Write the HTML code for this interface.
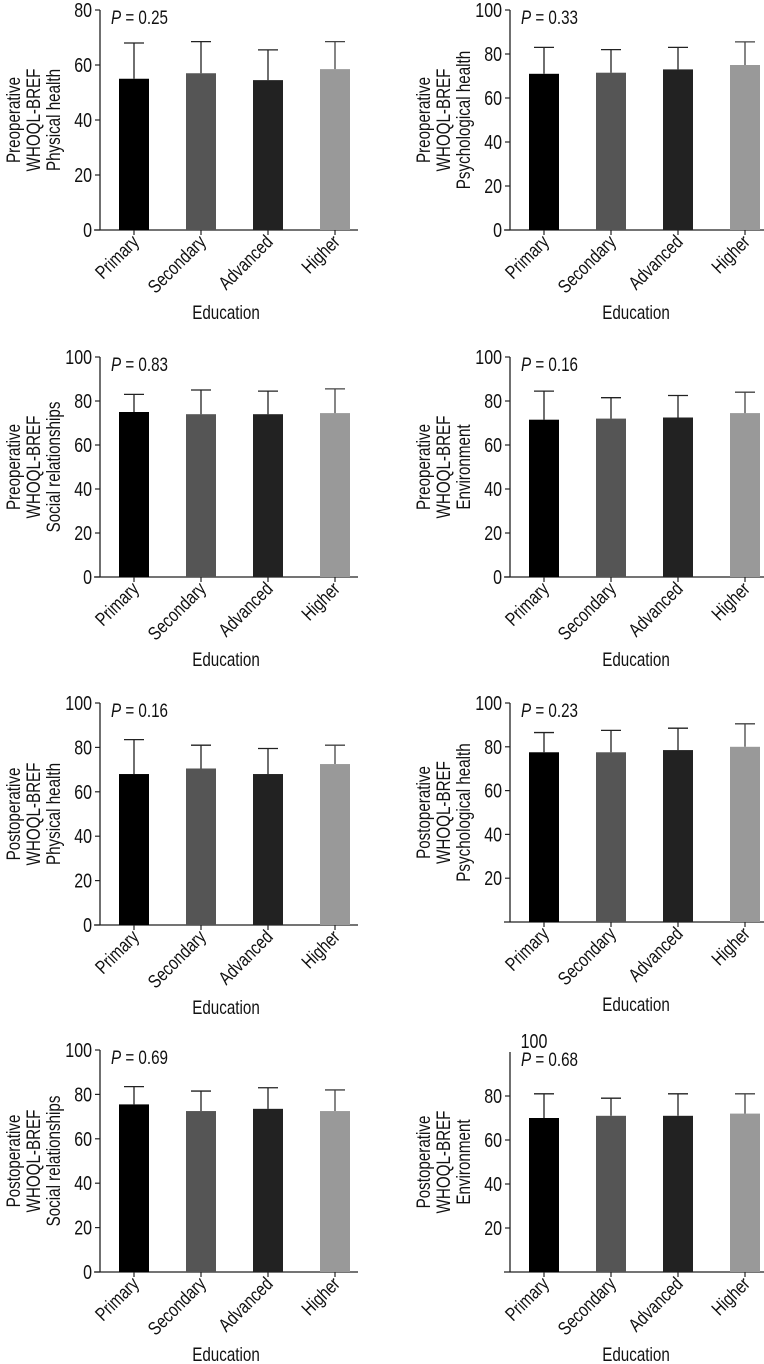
<!DOCTYPE html>
<html><head><meta charset="utf-8">
<style>
body{margin:0;background:#fff;}
svg{display:block;font-family:"Liberation Sans",sans-serif;}
</style></head>
<body>
<svg id="c" width="764" height="1364" viewBox="0 0 764 1364"></svg>
<script>
const categories = ["Primary","Secondary","Advanced","Higher"];
const barColors = ["#000000","#555555","#222222","#999999"];
const panelNames = ["pre-physical","pre-psychological","pre-social","pre-environment","post-physical","post-psychological","post-social","post-environment"];
const yTitles = [
 ["Preoperative","WHOQL-BREF","Physical health"],
 ["Preoperative","WHOQL-BREF","Psychological health"],
 ["Preoperative","WHOQL-BREF","Social relationships"],
 ["Preoperative","WHOQL-BREF","Environment"],
 ["Postoperative","WHOQL-BREF","Physical health"],
 ["Postoperative","WHOQL-BREF","Psychological health"],
 ["Postoperative","WHOQL-BREF","Social relationships"],
 ["Postoperative","WHOQL-BREF","Environment"]];
const pValues = ["0.25","0.33","0.83","0.16","0.16","0.23","0.69","0.68"];
const means = [
 [55,57,54.5,58.5],
 [71,71.5,73,75],
 [75,74,74,74.5],
 [71.5,72,72.5,74.5],
 [68,70.5,68,72.5],
 [77.5,77.5,78.5,80],
 [75.5,72.5,73.5,72.5],
 [70,71,71,72]];
const upper = [
 [68,68.5,65.5,68.5],
 [83,82,83,85.5],
 [83,85,84.5,85.5],
 [84.5,81.5,82.5,84],
 [83.5,81,79.5,81],
 [86.5,87.5,88.5,90.5],
 [83.5,81.5,83,82],
 [81,79,81,81]];
const yMax = [80,100,100,100,100,100,100,100];
const tickLabels = [
 [0,20,40,60,80],[0,20,40,60,80,100],[0,20,40,60,80,100],[0,20,40,60,80,100],
 [0,20,40,60,80,100],[20,40,60,80,100],[0,20,40,60,80,100],[20,40,60,80]];

const layout = [
 {ox:100,top:10,zero:230},{ox:510,top:10,zero:230},
 {ox:100,top:357,zero:577},{ox:510,top:357,zero:577},
 {ox:100,top:703,zero:925},{ox:510,top:703,zero:922},
 {ox:100,top:1050,zero:1272},{ox:510,top:1052,zero:1272}];

const NS="http://www.w3.org/2000/svg";
const svg=document.getElementById('c');
const SX=0.8;
function mk(tag,attrs,parent,text){
 const e=document.createElementNS(NS,tag);
 for(const k in attrs)e.setAttribute(k,attrs[k]);
 if(text!==undefined)e.textContent=text;
 (parent||svg).appendChild(e);return e;}
function txt(parent,x,y,rot,anchor,size,s){
 return mk('text',{x:0,y:0,'text-anchor':anchor,'font-size':size,fill:'#111',
  transform:`translate(${x} ${y}) rotate(${rot}) scale(${SX} 1)`},parent,s);}

layout.forEach((L,i)=>{
 const g=mk('g',{});
 
 
 const y=v=>L.zero-(v/yMax[i])*(L.zero-L.top);
 const step=67;
 const x=j=>L.ox+34+j*step;
 const right=Math.min(L.ox+258,764);
 const ya=mk('line',{x1:L.ox,y1:L.top,x2:L.ox,y2:L.zero,stroke:'#222','stroke-width':1.3},g);
 
 
 const xa=mk('line',{x1:L.ox-6,y1:L.zero,x2:right,y2:L.zero,stroke:'#222','stroke-width':1.3},g);
 
 
 tickLabels[i].forEach(t=>{
  mk('line',{x1:L.ox-5,y1:y(t),x2:L.ox,y2:y(t),stroke:'#222','stroke-width':1.2},g);
  const tl=txt(g,L.ox-8,y(t)+7,0,'end',20,String(t));
  
  
 });
 categories.forEach((c,j)=>{
  const b=mk('rect',{x:x(j)-15,y:y(means[i][j]),width:30,height:L.zero-y(means[i][j]),fill:barColors[j]},g);
  
  
  const eb=mk('path',{d:`M${x(j)},${y(means[i][j])}V${y(upper[i][j])}M${x(j)-10},${y(upper[i][j])}H${x(j)+10}`,stroke:j==3?'#444':'#222','stroke-width':1.3,fill:'none'},g);
  
  
  mk('line',{x1:x(j),y1:L.zero,x2:x(j),y2:L.zero+5,stroke:'#222','stroke-width':1.2},g);
  const xl=txt(g,x(j)+6,L.zero+13,-45,'end',19,c);
  
  
 });
 const xt=txt(g,L.ox+126,L.zero+89,0,'middle',19,'Education');
 
 
 const cy=(L.top+L.zero)/2;
 yTitles[i].forEach((s,k)=>{
  const tx=L.ox-80+k*20;
  const t=mk('text',{x:0,y:0,'text-anchor':'middle','font-size':19,fill:'#111',
   transform:`translate(${tx} ${cy}) rotate(-90) scale(${SX} 1)`},g,s);
  
  
 });
 const p=mk('text',{x:0,y:0,'font-size':19,fill:'#111',transform:`translate(${L.ox+11} ${L.top+14}) scale(${SX} 1)`},g);
 
 
 mk('tspan',{'font-style':'italic'},p,'P');
 mk('tspan',{},p,' = '+pValues[i]);
});
const stray=txt(svg,534,1048,0,'middle',20,'100');


</script>
</body></html>
